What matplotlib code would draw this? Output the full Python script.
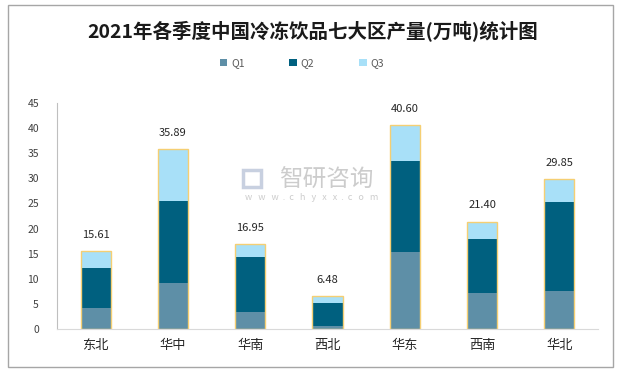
import numpy as np
import matplotlib
matplotlib.use('Agg')
import matplotlib.pyplot as plt
from matplotlib.patches import Rectangle

plt.rcParams['font.family'] = ['Noto Sans CJK SC', 'DejaVu Sans']

regions = ['东北', '华中', '华南', '西北', '华东', '西南', '华北']
q1 = [4.1, 9.2, 3.4, 0.6, 15.35, 7.2, 7.6]
q2 = [8.0, 16.3, 11.0, 4.65, 18.15, 10.7, 17.7]
q3 = [3.51, 10.39, 2.55, 1.23, 7.1, 3.5, 4.55]
totals = [15.61, 35.89, 16.95, 6.48, 40.60, 21.40, 29.85]

c1 = '#5E8FA7'
c2 = '#00607F'
c3 = '#A8E0F8'
edge = '#F5CF73'

fig = plt.figure(figsize=(6.2, 3.72), dpi=100)
fig.patches.append(Rectangle((8 / 620, 5 / 372), 605 / 620, 362 / 372,
                             transform=fig.transFigure, fill=False,
                             edgecolor='#A6A6A6', linewidth=1))

ax = fig.add_axes([57 / 620, 43 / 372, 541 / 620, 226 / 372])
x = np.arange(len(regions))
w = 0.39
b1 = np.array(q1)
b2 = b1 + np.array(q2)
ax.bar(x, q1, w, color=c1, label='Q1')
ax.bar(x, q2, w, bottom=b1, color=c2, label='Q2')
ax.bar(x, q3, w, bottom=b2, color=c3, label='Q3')
ax.bar(x, totals, w, fill=False, edgecolor=edge, linewidth=1)

for xi, t in zip(x, totals):
    ax.text(xi, t + 2.2, f'{t:.2f}', ha='center', va='bottom',
            fontsize=8, color='#262626')

ax.set_xlim(-0.5, len(regions) - 0.5)
ax.set_ylim(0, 45)
ax.set_yticks(np.arange(0, 46, 5))
ax.set_xticks(x)
ax.set_xticklabels(regions, fontsize=9.5, color='#262626', fontweight='medium')
ax.tick_params(axis='y', labelsize=7.5, colors='#404040', length=0, pad=13)
ax.tick_params(axis='x', length=0, pad=7)
for s in ['top', 'right']:
    ax.spines[s].set_visible(False)
ax.spines['left'].set_color('#BFBFBF')
ax.spines['bottom'].set_color('#D9D9D9')

# watermark
fig.text(0.527, 0.516, '智研咨询', ha='center', va='center', fontsize=17,
         color='#C4C4C4', alpha=0.85)
fig.patches.append(Rectangle((243 / 620, 185 / 372), 18 / 620, 17 / 372,
                             transform=fig.transFigure, fill=False,
                             edgecolor='#C8D0E0', linewidth=2.5))
fig.text(0.502, 0.468, 'w   w   w  .  c   h   y   x   x  .  c   o   m',
         ha='center', va='center', fontsize=6.5, color='#C4C4C4', alpha=0.85)

fig.text(0.505, 0.918, '2021年各季度中国冷冻饮品七大区产量(万吨)统计图',
         ha='center', va='center', fontsize=14, fontweight='bold',
         color='#1A1A1A')

fig.legend(loc='center', bbox_to_anchor=(0.487, 0.83), ncol=3, frameon=False,
           fontsize=7.5, handlelength=0.7, handleheight=0.7, columnspacing=4.3,
           handletextpad=0.4, labelcolor='#595959')

fig.savefig('out.png', dpi=100)
